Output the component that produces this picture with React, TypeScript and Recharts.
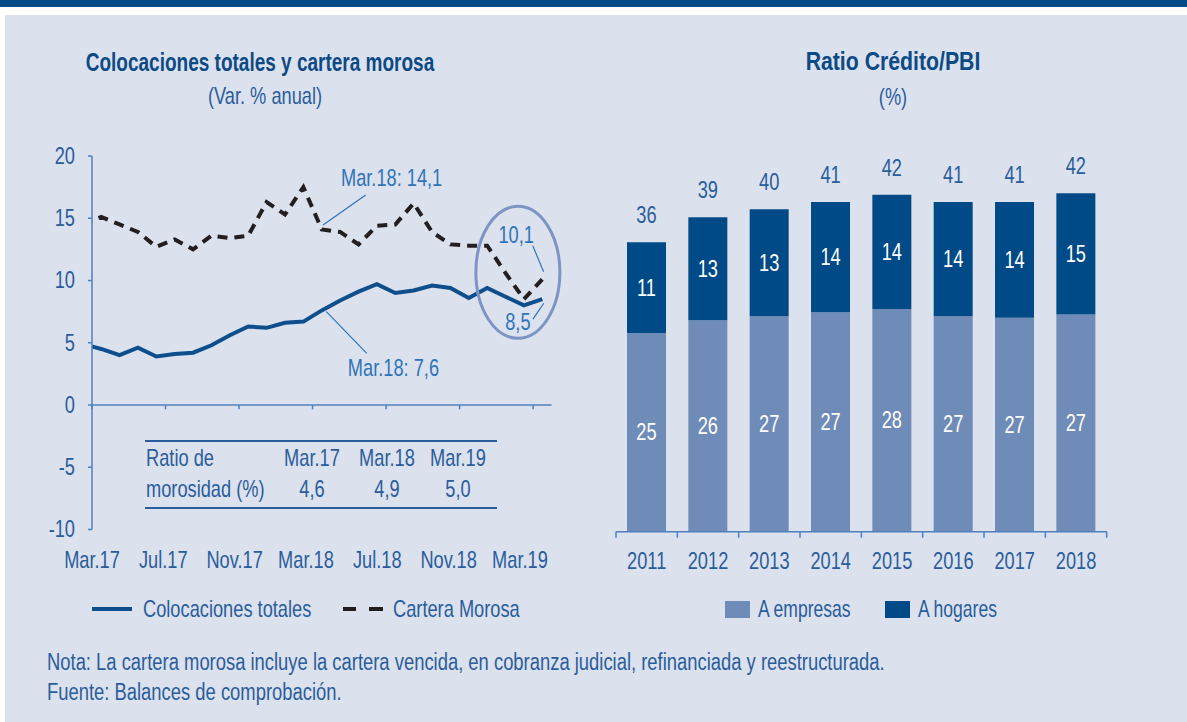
import React from 'react';
import {
  LineChart,
  Line,
  XAxis,
  YAxis,
  ReferenceLine,
  ReferenceDot,
  BarChart,
  Bar,
  LabelList,
} from 'recharts';

const FONT = "'Liberation Sans', Arial, sans-serif";
const FS = 24;
const SX = 0.76;
const TEXT = '#2a5d9b';
const TITLE = '#0c4a86';
const ANNO = '#2f74b7';
const AXIS = '#4f80bd';
const DARK = '#004a87';
const LIGHT = '#6f8bb8';
const PANEL = '#dce1ee';
const BLUE_LINE = '#0d4f8c';
const BLACK_LINE = '#231f20';

// ---- Left chart data (monthly, Feb.17 .. Mar.19) ----
const months = [
  'Feb.17', 'Mar.17', 'Abr.17', 'May.17', 'Jun.17', 'Jul.17', 'Ago.17', 'Set.17', 'Oct.17', 'Nov.17', 'Dic.17',
  'Ene.18', 'Feb.18', 'Mar.18', 'Abr.18', 'May.18', 'Jun.18', 'Jul.18', 'Ago.18', 'Set.18', 'Oct.18', 'Nov.18', 'Dic.18',
  'Ene.19', 'Feb.19', 'Mar.19',
];
const colocaciones = [
  4.9, 4.5, 4.0, 4.6, 3.9, 4.1, 4.2, 4.8, 5.6, 6.3, 6.2,
  6.6, 6.7, 7.6, 8.4, 9.1, 9.7, 9.0, 9.2, 9.6, 9.4, 8.6, 9.4,
  8.7, 8.0, 8.5,
];
const carteraMorosa = [
  14.5, 15.1, 14.5, 13.9, 12.7, 13.3, 12.5, 13.6, 13.4, 13.6, 16.3,
  15.3, 17.5, 14.1, 13.9, 12.9, 14.4, 14.5, 16.2, 13.9, 12.9, 12.8, 12.8,
  10.6, 8.5, 10.1,
];
const xTickValues = [-0.5, 3.5, 7.5, 11.5, 15.5, 19.5, 23.5];
const xTickLabels = ['Mar.17', 'Jul.17', 'Nov.17', 'Mar.18', 'Jul.18', 'Nov.18', 'Mar.19'];
const yTicks = [-10, -5, 0, 5, 10, 15, 20];

const tableHeaders = ['Mar.17', 'Mar.18', 'Mar.19'];
const tableValues = ['4,6', '4,9', '5,0'];

// annotations in data coordinates
const annoTexts = [
  { x: 15.8, y: 18.2, text: 'Mar.18: 14,1' },
  { x: 15.9, y: 2.95, text: 'Mar.18: 7,6' },
  { x: 22.58, y: 13.65, text: '10,1' },
  { x: 22.67, y: 6.69, text: '8,5' },
];
const annoLines = [
  [{ x: 14.39, y: 16.87 }, { x: 12.07, y: 14.46 }],
  [{ x: 12.25, y: 7.5 }, { x: 14.45, y: 4.15 }],
  [{ x: 23.48, y: 12.8 }, { x: 24.07, y: 10.7 }],
  [{ x: 23.49, y: 6.9 }, { x: 24.08, y: 8.17 }],
];

// ---- Right chart data ----
const years = ['2011', '2012', '2013', '2014', '2015', '2016', '2017', '2018'];
const empresas = [24.7, 26.3, 26.8, 27.3, 27.7, 26.8, 26.6, 27.0];
const hogares = [11.3, 12.8, 13.3, 13.7, 14.2, 14.2, 14.4, 15.1];

const lineData = months.map((m, i) => ({
  idx: i - 1,
  month: m,
  colocaciones: colocaciones[i],
  cartera: carteraMorosa[i],
}));

const barData = years.map((y, i) => ({
  x: i + 0.5,
  year: y,
  empresas: empresas[i],
  hogares: hogares[i],
  total: Math.round(empresas[i] + hogares[i]),
}));

const barTickValues = years.flatMap((_, i) => [i, i + 0.5]).concat([years.length]);

const SText = ({ x, y, anchor = 'middle', fill = TEXT, size = FS, sx = SX, children }: any) => (
  <text
    transform={`translate(${x},${y}) scale(${sx},1)`}
    x={0}
    y={0}
    textAnchor={anchor}
    dominantBaseline="central"
    fill={fill}
    fontSize={size}
    fontFamily={FONT}
  >
    {children}
  </text>
);

const LeftTick = (props: any) => {
  const { x, y, payload } = props;
  const i = xTickValues.indexOf(payload.value);
  return (
    <SText x={x - i * 2.2} y={y + 31}>
      {xTickLabels[i]}
    </SText>
  );
};

const YTick = (props: any) => {
  const { x, y, payload } = props;
  return (
    <SText x={x} y={y} anchor="end">
      {payload.value}
    </SText>
  );
};

const RightTick = (props: any) => {
  const { x, y, payload } = props;
  const v = payload.value;
  if (Number.isInteger(v)) {
    return <line x1={x} x2={x} y1={y} y2={y + 6} stroke={AXIS} strokeWidth={1.5} />;
  }
  return (
    <SText x={x} y={y + 29}>
      {years[Math.floor(v)]}
    </SText>
  );
};

const Txt = ({ x, y, anchor = 'middle', size = FS, sx = SX, color = TEXT, bold = false, children }: any) => (
  <div
    style={{
      position: 'absolute',
      left: x,
      top: y,
      transform: `translate(${anchor === 'middle' ? '-50%' : anchor === 'end' ? '-100%' : '0'}, -50%) scaleX(${sx})`,
      transformOrigin: anchor === 'middle' ? 'center' : anchor === 'end' ? 'right center' : 'left center',
      whiteSpace: 'nowrap',
      fontFamily: FONT,
      fontSize: size,
      color,
      fontWeight: bold ? 700 : 400,
      lineHeight: 1,
    }}
  >
    {children}
  </div>
);

const InsideLabel = (props: any) => {
  const { x, y, width, height, value } = props;
  return (
    <SText x={x + width / 2} y={y + height / 2} fill="#ffffff">
      {Math.round(value)}
    </SText>
  );
};

const TopLabel = (props: any) => {
  const { x, y, width, value } = props;
  return (
    <SText x={x + width / 2} y={y - 27}>
      {value}
    </SText>
  );
};

const tableCols = [311.7, 386.7, 458.3];

export default function App() {
  return (
    <div
      style={{
        position: 'absolute',
        left: 0,
        top: 0,
        width: 1187,
        height: 722,
        background: '#ffffff',
        overflow: 'hidden',
      }}
    >
      <div style={{ position: 'absolute', left: 0, top: 0, width: 1187, height: 7, background: DARK }} />
      <div style={{ position: 'absolute', left: 5, top: 15, width: 1182, height: 707, background: PANEL }} />

      {/* Titles */}
      <Txt x={260} y={62} size={25} sx={0.76} color={TITLE} bold>
        Colocaciones totales y cartera morosa
      </Txt>
      <Txt x={265} y={96}>(Var. % anual)</Txt>
      <Txt x={893} y={61} size={25} sx={0.85} color={TITLE} bold>
        Ratio Crédito/PBI
      </Txt>
      <Txt x={893} y={97}>(%)</Txt>

      {/* Left chart */}
      <div style={{ position: 'absolute', left: 0, top: 0 }}>
        <LineChart
          width={600}
          height={722}
          data={lineData}
          margin={{ top: 156, right: 48.5, bottom: 162.5, left: 52 }}
        >
          <XAxis
            dataKey="idx"
            type="number"
            domain={[-0.5, 24.5]}
            allowDataOverflow
            ticks={xTickValues}
            interval={0}
            axisLine={false}
            tickLine={false}
            tickSize={0}
            tickMargin={0}
            height={30}
            tick={<LeftTick />}
          />
          <YAxis
            type="number"
            domain={[-10, 20]}
            ticks={yTicks}
            interval={0}
            width={40}
            axisLine={{ stroke: AXIS, strokeWidth: 1.5 }}
            tickLine={{ stroke: AXIS, strokeWidth: 1.5 }}
            tickSize={4}
            tickMargin={13}
            tick={<YTick />}
          />
          <ReferenceLine y={0} stroke={AXIS} strokeWidth={1.5} />
          {xTickValues.map((t) => (
            <ReferenceLine
              key={'t' + t}
              segment={[{ x: t, y: 0 }, { x: t, y: -0.35 }]}
              stroke={AXIS}
              strokeWidth={1.5}
            />
          ))}
          <ReferenceDot
            x={22.67}
            y={10.66}
            r={1}
            shape={(p: any) => (
              <ellipse cx={p.cx} cy={p.cy} rx={42} ry={66} fill="none" stroke="#7d95c5" strokeWidth={3} />
            )}
          />
          {annoLines.map((seg, i) => (
            <ReferenceLine key={'a' + i} segment={seg} stroke={ANNO} strokeWidth={1.2} />
          ))}
          {annoTexts.map((a, i) => (
            <ReferenceDot
              key={'txt' + i}
              x={a.x}
              y={a.y}
              r={1}
              shape={(p: any) => (
                <SText x={p.cx} y={p.cy} fill={ANNO}>
                  {a.text}
                </SText>
              )}
            />
          ))}
          <Line
            type="linear"
            dataKey="cartera"
            stroke={BLACK_LINE}
            strokeWidth={4}
            strokeDasharray="10 7"
            dot={false}
            isAnimationActive={false}
          />
          <Line
            type="linear"
            dataKey="colocaciones"
            stroke={BLUE_LINE}
            strokeWidth={4}
            dot={false}
            isAnimationActive={false}
          />
        </LineChart>
      </div>

      {/* Table */}
      <div style={{ position: 'absolute', left: 145, top: 440, width: 352, height: 2, background: TEXT }} />
      <div style={{ position: 'absolute', left: 145, top: 506.5, width: 352, height: 2, background: TEXT }} />
      <Txt x={146} y={458} anchor="start">Ratio de</Txt>
      <Txt x={146} y={489} anchor="start">morosidad (%)</Txt>
      {tableHeaders.map((h, i) => (
        <Txt key={h} x={tableCols[i]} y={458}>
          {h}
        </Txt>
      ))}
      {tableValues.map((v, i) => (
        <Txt key={v + i} x={tableCols[i]} y={489}>
          {v}
        </Txt>
      ))}

      {/* Left legend */}
      <svg style={{ position: 'absolute', left: 0, top: 590 }} width={600} height={40}>
        <line x1={92} x2={132} y1={19} y2={19} stroke={BLUE_LINE} strokeWidth={4} />
        <line x1={343} x2={356} y1={19} y2={19} stroke={BLACK_LINE} strokeWidth={4} />
        <line x1={369} x2={383} y1={19} y2={19} stroke={BLACK_LINE} strokeWidth={4} />
      </svg>
      <Txt x={143} y={609} anchor="start">Colocaciones totales</Txt>
      <Txt x={393} y={609} anchor="start">Cartera Morosa</Txt>

      {/* Right chart */}
      <div style={{ position: 'absolute', left: 600, top: 0 }}>
        <BarChart
          width={587}
          height={722}
          data={barData}
          margin={{ top: 129.7, right: 80.3, bottom: 160.3, left: 16 }}
        >
          <XAxis
            dataKey="x"
            type="number"
            domain={[0, years.length]}
            ticks={barTickValues}
            interval={0}
            axisLine={{ stroke: AXIS, strokeWidth: 1.5 }}
            tickLine={false}
            tickSize={0}
            tickMargin={0}
            height={30}
            tick={<RightTick />}
          />
          <YAxis hide domain={[0, 50]} type="number" />
          <Bar dataKey="empresas" stackId="a" fill={LIGHT} barSize={39} isAnimationActive={false}>
            <LabelList dataKey="empresas" content={<InsideLabel />} />
          </Bar>
          <Bar dataKey="hogares" stackId="a" fill={DARK} barSize={39} isAnimationActive={false}>
            <LabelList dataKey="hogares" content={<InsideLabel />} />
            <LabelList dataKey="total" content={<TopLabel />} />
          </Bar>
        </BarChart>
      </div>

      {/* Right legend */}
      <div style={{ position: 'absolute', left: 725, top: 600.5, width: 25, height: 17.5, background: LIGHT }} />
      <Txt x={758} y={609} anchor="start" sx={0.73}>A empresas</Txt>
      <div style={{ position: 'absolute', left: 885, top: 600.5, width: 25, height: 17.5, background: DARK }} />
      <Txt x={918} y={609} anchor="start" sx={0.73}>A hogares</Txt>

      {/* Notes */}
      <Txt x={47} y={662} anchor="start" size={23} sx={0.8}>
        Nota: La cartera morosa incluye la cartera vencida, en cobranza judicial, refinanciada y reestructurada.
      </Txt>
      <Txt x={47} y={692} anchor="start" size={23} sx={0.8}>
        Fuente: Balances de comprobación.
      </Txt>
    </div>
  );
}
